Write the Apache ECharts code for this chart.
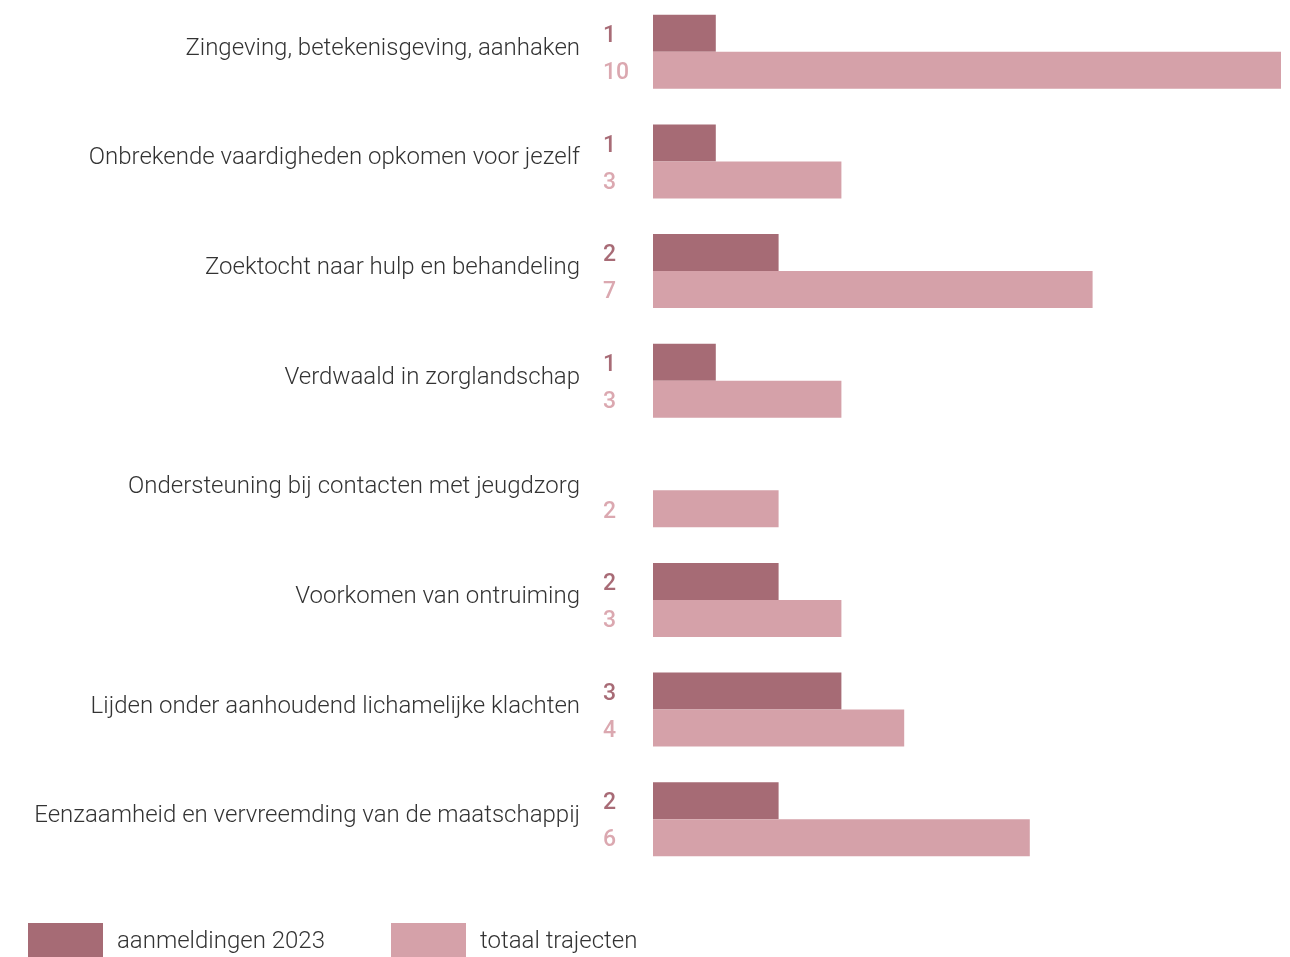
<!DOCTYPE html>
<html>
<head>
<meta charset="utf-8">
<script src="https://cdn.jsdelivr.net/npm/echarts@6/dist/echarts.min.js"></script>
<style>
html,body{margin:0;padding:0;background:#fff;}
#chart{width:1290px;height:957px;}
</style>
</head>
<body>
<div id="chart"></div>
<script>
const categories = [
  'Zingeving, betekenisgeving, aanhaken',
  'Onbrekende vaardigheden opkomen voor jezelf',
  'Zoektocht naar hulp en behandeling',
  'Verdwaald in zorglandschap',
  'Ondersteuning bij contacten met jeugdzorg',
  'Voorkomen van ontruiming',
  'Lijden onder aanhoudend lichamelijke klachten',
  'Eenzaamheid en vervreemding van de maatschappij'
];
const aanmeldingen2023 = [1, 1, 2, 1, 0, 2, 3, 2];
const totaalTrajecten = [10, 3, 7, 3, 2, 3, 4, 6];
const seriesNames = ['aanmeldingen 2023', 'totaal trajecten'];

const DARK = '#a66b75';
const LIGHT = '#d5a1a9';
const FONT = 'Roboto';

const chart = echarts.init(document.getElementById('chart'), null, {renderer: 'canvas'});

function valueLabel(color) {
  return {
    show: true,
    position: [-50, '50%'],
    offset: [0, 3],
    align: 'left',
    verticalAlign: 'middle',
    fontFamily: FONT,
    fontWeight: 500,
    fontSize: 23,
    color: color,
    formatter: p => (p.value === 0 ? '' : String(p.value))
  };
}

const legendCommon = {
  top: 918,
  itemWidth: 75,
  itemHeight: 34,
  icon: 'rect',
  formatter: '{t|{name}}',
  textStyle: {
    fontFamily: FONT, fontWeight: 300, fontSize: 24, color: '#333333',
    rich: {t: {fontFamily: FONT, fontWeight: 300, fontSize: 24, color: '#333333', padding: [4, 0, 0, 9]}}
  }
};

chart.setOption({
  animation: false,
  backgroundColor: '#ffffff',
  grid: {left: 653, right: 9, top: -3, height: 877, containLabel: false, outerBoundsMode: 'none'},
  xAxis: {
    type: 'value', min: 0, max: 10,
    show: false
  },
  yAxis: {
    type: 'category', data: categories, inverse: true,
    axisLine: {show: false}, axisTick: {show: false}, splitLine: {show: false},
    axisLabel: {
      margin: 73,
      fontFamily: FONT, fontWeight: 300, fontSize: 24, color: '#333333',
      formatter: v => '{c|' + v + '}',
      rich: {c: {fontFamily: FONT, fontWeight: 300, fontSize: 24, color: '#333333', padding: [0, 0, 6, 0]}}
    }
  },
  legend: [
    Object.assign({}, legendCommon, {left: 23, data: [seriesNames[0]]}),
    Object.assign({}, legendCommon, {left: 386, data: [seriesNames[1]]})
  ],
  series: [
    {
      name: seriesNames[0], type: 'bar', data: aanmeldingen2023,
      barWidth: 37, barGap: '0%',
      itemStyle: {color: DARK},
      label: valueLabel('#a86b76')
    },
    {
      name: seriesNames[1], type: 'bar', data: totaalTrajecten,
      barWidth: 37, barGap: '0%',
      itemStyle: {color: LIGHT},
      label: valueLabel('#dba8b0')
    }
  ]
});
</script>
</body>
</html>
